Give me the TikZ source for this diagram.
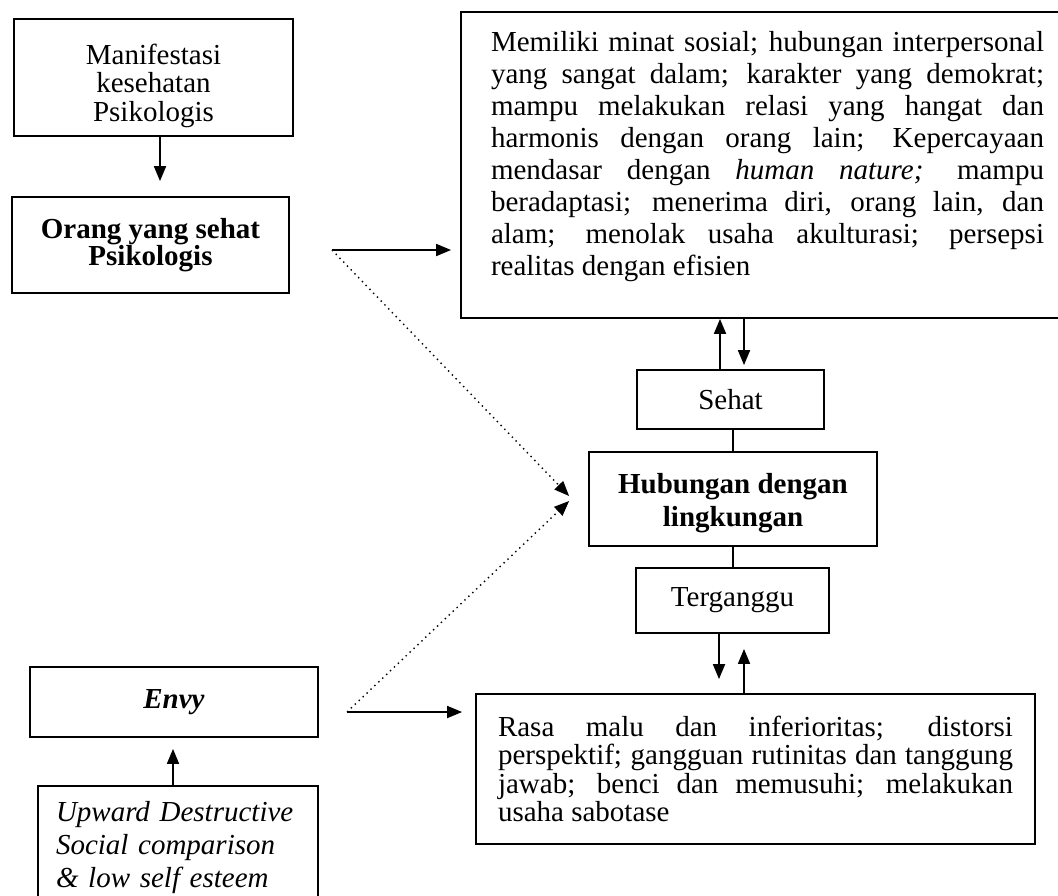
\documentclass[tikz,border=0pt]{standalone}
\usepackage{fontspec}
\setmainfont{Liberation Serif}
\usetikzlibrary{arrows.meta}
\tikzstyle{box}=[rectangle,draw,line width=0.9pt,text=black,align=center,font=\fontsize{14.5}{14}\selectfont]
\tikzstyle{link}=[->,line width=0.9pt,>={Triangle[length=7.5pt,width=6pt]}]
\tikzstyle{linkD}=[->,dotted,line width=0.7pt,>={Triangle[length=7.5pt,width=6pt]}]
\tikzstyle{plain}=[line width=0.9pt]

\begin{document}
\begin{tikzpicture}[x=0.5pt,y=-0.5pt]
  \useasboundingbox (0,0) rectangle (1058,895);

  \node[box,minimum width=139.5pt,minimum height=58.5pt,font=\fontsize{14.5}{13.9}\selectfont] (manif) at (153.5,77.5) {\raisebox{-4.5pt}[\height][\depth]{\begin{tabular}{@{}c@{}}Manifestasi\\kesehatan\\Psikologis\end{tabular}}};
  \node[box,minimum width=138.5pt,minimum height=48pt,font=\bfseries\fontsize{14.5}{13.5}\selectfont] (orang) at (150.5,245) {Orang yang sehat\\Psikologis};
  \node[box,minimum width=300.5pt,minimum height=153pt,inner xsep=4pt,text width=292.5pt,align=justify,font=\fontsize{14.5}{16}\selectfont] (ciri) at (761.5,165) {\leftskip=11pt\rightskip=5pt\hyphenpenalty=10000\tolerance=9999
    Memiliki minat sosial; hubungan interpersonal\linebreak
    yang sangat dalam; karakter yang demokrat;\linebreak
    mampu melakukan relasi yang hangat dan\linebreak
    harmonis dengan orang lain; Kepercayaan\linebreak
    mendasar dengan \textit{human nature;} mampu\linebreak
    beradaptasi; menerima diri, orang lain, dan\linebreak
    alam; menolak usaha akulturasi; persepsi\linebreak
    realitas dengan efisien\par\vspace{8pt}};
  \node[box,minimum width=93.5pt,minimum height=29.5pt] (sehat) at (730.5,399.5) {Sehat};
  \node[box,minimum width=144pt,minimum height=47pt,font=\bfseries\fontsize{14.5}{16.5}\selectfont] (hub) at (733,499) {\raisebox{-2pt}[\height][\depth]{\begin{tabular}{@{}c@{}}Hubungan dengan\\lingkungan\end{tabular}}};
  \node[box,minimum width=96.5pt,minimum height=32.5pt] (terg) at (732.5,600.5) {Terganggu};
  \node[box,minimum width=279.5pt,minimum height=75pt,text width=257.5pt,align=justify,font=\fontsize{14.5}{14.2}\selectfont] (rasa) at (755.5,769) {\hyphenpenalty=10000\tolerance=9999
    Rasa malu dan inferioritas; distorsi\linebreak
    perspektif; gangguan rutinitas dan tanggung\linebreak
    jawab; benci dan memusuhi; melakukan\linebreak
    usaha sabotase};
  \node[box,minimum width=144pt,minimum height=35pt,font=\bfseries\itshape\fontsize{14.5}{14.5}\selectfont] (envy) at (174,702) {Envy};
  \node[box,minimum width=140pt,minimum height=62pt,text width=122pt,align=left,font=\itshape\fontsize{14.5}{16.5}\selectfont] (upward) at (178,848) {Upward Destructive\\Social comparison\\\& low self esteem};

  \coordinate (split) at (332,250);
  \coordinate (split2) at (347,712);

  \draw[link,shorten >=7.5pt] ([xshift=3.25pt]manif.south) -- ([xshift=3.25pt]manif.south |- orang.north);
  \draw[link,shorten >=4.5pt] (split) -- (split -| ciri.west);
  \draw[linkD] (split) -- ([xshift=-9.5pt,yshift=1.5pt]hub.west);
  \draw[link,shorten >=6.5pt] (split2) -- (split2 -| rasa.west);
  \draw[linkD] (split2) -- ([xshift=-9.5pt,yshift=-1pt]hub.west);
  %
  \draw[link] ([xshift=-5.25pt]sehat.north) -- ([xshift=-5.25pt]sehat.north |- ciri.south);
  \draw[link,shorten >=2pt] ([xshift=6.75pt]sehat.north |- ciri.south) -- ([xshift=6.75pt]sehat.north);
  \draw[plain] (hub.north |- sehat.south) -- (hub.north);
  \draw[plain] (hub.south) -- (hub.south |- terg.north);
  \draw[link,shorten >=7pt] ([xshift=-6.75pt]terg.south) -- ([xshift=-6.75pt]terg.south |- rasa.north);
  \draw[link,shorten >=7.5pt] ([xshift=5.75pt]terg.south |- rasa.north) -- ([xshift=5.75pt]terg.south);
  \draw[link,shorten >=5.5pt] ([xshift=-2.5pt]upward.north) -- ([xshift=-2.5pt]upward.north |- envy.south);

\end{tikzpicture}
\end{document}
